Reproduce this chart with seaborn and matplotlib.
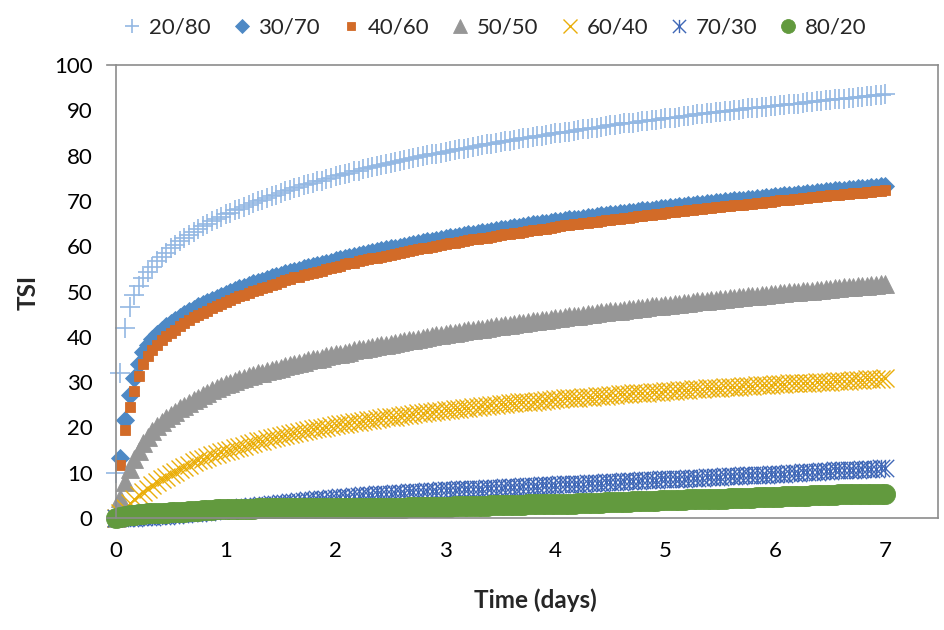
import numpy as np
import pandas as pd
import matplotlib
matplotlib.use("Agg")
import matplotlib.pyplot as plt
from matplotlib.path import Path
import seaborn as sns

# hourly readings over seven days
HOURS = np.arange(169)
TIME_DAYS = HOURS / 24.0

RATIOS = ["20/80", "30/70", "40/60", "50/50", "60/40", "70/30", "80/20"]

TSI_20_80 = [
    10.0, 32.0, 42.0, 46.5, 49.2, 51.3, 53.0, 54.3, 55.5, 56.7, 57.7, 58.6, 59.5,
    60.3, 61.1, 61.8, 62.5, 63.2, 63.8, 64.4, 64.9, 65.5, 66.0, 66.5, 67.0,
    67.4, 67.9, 68.3, 68.7, 69.2, 69.6, 70.0, 70.3, 70.7, 71.1, 71.4, 71.8,
    72.1, 72.4, 72.8, 73.1, 73.4, 73.7, 74.0, 74.3, 74.5, 74.8, 75.1, 75.4,
    75.7, 75.9, 76.2, 76.5, 76.7, 77.0, 77.2, 77.5, 77.7, 77.9, 78.2, 78.4,
    78.6, 78.8, 79.1, 79.3, 79.5, 79.7, 79.9, 80.1, 80.3, 80.4, 80.6, 80.8,
    81.0, 81.2, 81.4, 81.5, 81.7, 81.9, 82.1, 82.3, 82.5, 82.6, 82.8, 83.0,
    83.2, 83.3, 83.5, 83.6, 83.8, 83.9, 84.1, 84.3, 84.4, 84.6, 84.7, 84.9,
    85.0, 85.2, 85.3, 85.5, 85.6, 85.8, 85.9, 86.1, 86.2, 86.4, 86.5, 86.7,
    86.8, 86.9, 87.1, 87.2, 87.3, 87.4, 87.6, 87.7, 87.8, 87.9, 88.1, 88.2,
    88.3, 88.4, 88.6, 88.7, 88.8, 88.9, 89.1, 89.2, 89.3, 89.4, 89.6, 89.7,
    89.8, 89.9, 90.0, 90.1, 90.2, 90.4, 90.5, 90.6, 90.7, 90.8, 90.9, 91.0,
    91.1, 91.2, 91.3, 91.4, 91.5, 91.7, 91.8, 91.9, 92.0, 92.1, 92.2, 92.3,
    92.4, 92.5, 92.6, 92.7, 92.8, 92.9, 93.0, 93.1, 93.2, 93.3, 93.4, 93.5,
]

TSI_30_70 = [
    0.3, 13.2, 21.6, 27.2, 30.8, 34.0, 36.6, 38.2, 39.5, 40.6, 41.5, 42.3, 43.0,
    43.7, 44.4, 45.0, 45.6, 46.2, 46.7, 47.2, 47.7, 48.2, 48.6, 49.1, 49.5,
    49.9, 50.3, 50.7, 51.0, 51.4, 51.8, 52.1, 52.4, 52.8, 53.1, 53.4, 53.7,
    54.0, 54.3, 54.6, 54.8, 55.1, 55.4, 55.6, 55.9, 56.1, 56.4, 56.6, 56.9,
    57.1, 57.4, 57.6, 57.8, 58.1, 58.3, 58.5, 58.7, 58.9, 59.1, 59.3, 59.5,
    59.7, 59.9, 60.1, 60.3, 60.5, 60.7, 60.9, 61.1, 61.2, 61.4, 61.6, 61.8,
    62.0, 62.1, 62.3, 62.4, 62.6, 62.8, 62.9, 63.1, 63.2, 63.4, 63.5, 63.7,
    63.9, 64.0, 64.2, 64.3, 64.5, 64.6, 64.8, 64.9, 65.1, 65.2, 65.4, 65.5,
    65.6, 65.8, 65.9, 66.0, 66.1, 66.3, 66.4, 66.5, 66.6, 66.8, 66.9, 67.0,
    67.1, 67.3, 67.4, 67.5, 67.6, 67.8, 67.9, 68.0, 68.1, 68.3, 68.4, 68.5,
    68.6, 68.7, 68.8, 68.9, 69.0, 69.2, 69.3, 69.4, 69.5, 69.6, 69.7, 69.8,
    69.9, 70.0, 70.1, 70.2, 70.3, 70.4, 70.5, 70.6, 70.7, 70.8, 70.9, 71.0,
    71.1, 71.2, 71.3, 71.4, 71.5, 71.6, 71.7, 71.8, 71.9, 72.0, 72.1, 72.2,
    72.3, 72.4, 72.5, 72.6, 72.7, 72.8, 72.8, 72.9, 73.0, 73.1, 73.2, 73.3,
]

TSI_40_60 = [
    0.2, 11.6, 19.4, 24.5, 28.1, 31.3, 34.0, 35.7, 37.0, 38.2, 39.2, 40.1, 40.9,
    41.6, 42.4, 43.0, 43.7, 44.3, 44.8, 45.3, 45.8, 46.3, 46.7, 47.2, 47.7,
    48.2, 48.6, 49.0, 49.3, 49.7, 50.1, 50.4, 50.7, 51.1, 51.4, 51.7, 52.0,
    52.5, 52.8, 53.1, 53.3, 53.6, 53.9, 54.1, 54.4, 54.6, 54.9, 55.1, 55.4,
    55.7, 56.0, 56.2, 56.4, 56.7, 56.9, 57.1, 57.3, 57.5, 57.7, 57.9, 58.1,
    58.3, 58.5, 58.7, 58.9, 59.1, 59.3, 59.5, 59.7, 59.8, 60.0, 60.2, 60.4,
    60.7, 60.8, 61.0, 61.1, 61.3, 61.5, 61.6, 61.8, 61.9, 62.1, 62.2, 62.4,
    62.6, 62.7, 62.9, 63.0, 63.2, 63.3, 63.5, 63.6, 63.8, 63.9, 64.1, 64.2,
    64.4, 64.6, 64.7, 64.8, 64.9, 65.1, 65.2, 65.3, 65.4, 65.6, 65.7, 65.8,
    65.9, 66.1, 66.2, 66.3, 66.4, 66.6, 66.7, 66.8, 66.9, 67.1, 67.2, 67.3,
    67.5, 67.6, 67.7, 67.8, 67.9, 68.1, 68.2, 68.3, 68.4, 68.5, 68.6, 68.7,
    68.8, 68.9, 69.0, 69.1, 69.2, 69.3, 69.4, 69.5, 69.6, 69.7, 69.8, 69.9,
    70.1, 70.2, 70.3, 70.4, 70.5, 70.6, 70.7, 70.8, 70.9, 71.0, 71.1, 71.2,
    71.3, 71.4, 71.5, 71.6, 71.7, 71.8, 71.8, 71.9, 72.0, 72.1, 72.2, 72.3,
]

TSI_50_50 = [
    0.0, 4.5, 8.0, 10.8, 13.0, 14.9, 16.5, 17.9, 19.1, 20.2, 21.2, 22.0, 22.8,
    23.5, 24.2, 24.8, 25.4, 26.0, 26.6, 27.1, 27.7, 28.2, 28.7, 29.2, 29.6,
    29.9, 30.3, 30.6, 30.9, 31.3, 31.6, 31.9, 32.1, 32.4, 32.7, 32.9, 33.2,
    33.5, 33.7, 34.0, 34.3, 34.5, 34.8, 35.0, 35.2, 35.4, 35.7, 35.9, 36.1,
    36.3, 36.5, 36.7, 37.0, 37.2, 37.4, 37.6, 37.8, 38.0, 38.1, 38.3, 38.5,
    38.7, 38.9, 39.1, 39.2, 39.4, 39.6, 39.8, 39.9, 40.1, 40.3, 40.4, 40.6,
    40.8, 40.9, 41.1, 41.2, 41.4, 41.5, 41.7, 41.8, 42.0, 42.1, 42.3, 42.4,
    42.5, 42.7, 42.8, 43.0, 43.1, 43.3, 43.4, 43.5, 43.7, 43.8, 44.0, 44.1,
    44.2, 44.4, 44.5, 44.6, 44.7, 44.9, 45.0, 45.1, 45.2, 45.4, 45.5, 45.6,
    45.7, 45.8, 46.0, 46.1, 46.2, 46.3, 46.4, 46.5, 46.7, 46.8, 46.9, 47.0,
    47.1, 47.2, 47.3, 47.4, 47.5, 47.7, 47.8, 47.9, 48.0, 48.1, 48.2, 48.3,
    48.4, 48.5, 48.6, 48.7, 48.8, 48.9, 49.0, 49.1, 49.2, 49.3, 49.4, 49.5,
    49.6, 49.7, 49.8, 49.9, 50.0, 50.1, 50.1, 50.2, 50.3, 50.4, 50.5, 50.6,
    50.7, 50.8, 50.9, 51.0, 51.1, 51.2, 51.2, 51.3, 51.4, 51.5, 51.6, 51.7,
]

TSI_60_40 = [
    0.0, 1.2, 2.3, 3.3, 4.2, 5.0, 5.8, 6.5, 7.2, 7.9, 8.5, 9.1, 9.7,
    10.2, 10.8, 11.3, 11.8, 12.3, 12.7, 13.1, 13.5, 13.9, 14.2, 14.5, 14.8,
    15.1, 15.4, 15.7, 16.0, 16.3, 16.6, 16.9, 17.1, 17.4, 17.6, 17.9, 18.1,
    18.3, 18.5, 18.8, 19.0, 19.2, 19.4, 19.6, 19.8, 19.9, 20.1, 20.3, 20.5,
    20.7, 20.8, 21.0, 21.1, 21.3, 21.4, 21.6, 21.7, 21.9, 22.0, 22.2, 22.3,
    22.4, 22.6, 22.7, 22.8, 23.0, 23.1, 23.2, 23.3, 23.5, 23.6, 23.7, 23.8,
    23.9, 24.0, 24.1, 24.2, 24.3, 24.5, 24.6, 24.7, 24.8, 24.9, 25.0, 25.1,
    25.2, 25.3, 25.4, 25.5, 25.6, 25.7, 25.7, 25.8, 25.9, 26.0, 26.1, 26.2,
    26.3, 26.4, 26.4, 26.5, 26.6, 26.7, 26.7, 26.8, 26.9, 26.9, 27.0, 27.1,
    27.2, 27.3, 27.3, 27.4, 27.5, 27.6, 27.6, 27.7, 27.8, 27.8, 27.9, 28.0,
    28.1, 28.1, 28.2, 28.3, 28.3, 28.4, 28.5, 28.5, 28.6, 28.7, 28.7, 28.8,
    28.9, 28.9, 29.0, 29.0, 29.1, 29.2, 29.2, 29.3, 29.3, 29.4, 29.4, 29.5,
    29.6, 29.6, 29.7, 29.7, 29.8, 29.8, 29.9, 29.9, 30.0, 30.0, 30.1, 30.1,
    30.2, 30.2, 30.3, 30.3, 30.4, 30.5, 30.5, 30.6, 30.6, 30.7, 30.7, 30.8,
]

TSI_70_30 = [
    0.0, 0.0, 0.1, 0.1, 0.1, 0.2, 0.2, 0.3, 0.3, 0.4, 0.5, 0.5, 0.6,
    0.7, 0.8, 0.9, 1.0, 1.1, 1.2, 1.3, 1.4, 1.5, 1.7, 1.8, 1.9,
    2.0, 2.1, 2.2, 2.4, 2.5, 2.6, 2.7, 2.8, 2.9, 3.1, 3.2, 3.3,
    3.4, 3.5, 3.6, 3.7, 3.8, 3.9, 4.0, 4.1, 4.2, 4.3, 4.4, 4.5,
    4.6, 4.6, 4.7, 4.8, 4.9, 5.0, 5.0, 5.1, 5.2, 5.2, 5.3, 5.4,
    5.5, 5.5, 5.6, 5.7, 5.7, 5.8, 5.8, 5.9, 5.9, 6.0, 6.1, 6.1,
    6.2, 6.2, 6.3, 6.3, 6.4, 6.4, 6.5, 6.5, 6.6, 6.6, 6.7, 6.7,
    6.8, 6.8, 6.9, 6.9, 7.0, 7.0, 7.1, 7.1, 7.2, 7.2, 7.3, 7.3,
    7.4, 7.4, 7.5, 7.5, 7.6, 7.6, 7.7, 7.7, 7.8, 7.8, 7.9, 7.9,
    8.0, 8.0, 8.1, 8.1, 8.2, 8.2, 8.3, 8.3, 8.4, 8.4, 8.5, 8.5,
    8.6, 8.6, 8.7, 8.7, 8.8, 8.8, 8.9, 8.9, 9.0, 9.0, 9.1, 9.1,
    9.2, 9.2, 9.3, 9.3, 9.4, 9.4, 9.5, 9.5, 9.6, 9.6, 9.7, 9.7,
    9.8, 9.8, 9.9, 10.0, 10.0, 10.1, 10.1, 10.2, 10.2, 10.3, 10.3, 10.4,
    10.5, 10.5, 10.6, 10.6, 10.7, 10.7, 10.8, 10.8, 10.9, 10.9, 11.0, 11.0,
]

TSI_80_20 = [
    0.0, 0.3, 0.5, 0.6, 0.7, 0.8, 0.9, 1.0, 1.0, 1.1, 1.2, 1.2, 1.3,
    1.3, 1.4, 1.4, 1.5, 1.5, 1.6, 1.7, 1.7, 1.8, 1.9, 1.9, 2.0,
    2.0, 2.0, 2.0, 2.0, 2.0, 2.0, 2.1, 2.1, 2.1, 2.1, 2.1, 2.1,
    2.1, 2.1, 2.1, 2.2, 2.2, 2.2, 2.2, 2.2, 2.2, 2.2, 2.2, 2.2,
    2.2, 2.2, 2.2, 2.2, 2.2, 2.3, 2.3, 2.3, 2.3, 2.3, 2.3, 2.3,
    2.3, 2.3, 2.3, 2.4, 2.4, 2.4, 2.4, 2.4, 2.4, 2.5, 2.5, 2.5,
    2.5, 2.6, 2.6, 2.6, 2.6, 2.7, 2.7, 2.7, 2.7, 2.8, 2.8, 2.8,
    2.8, 2.9, 2.9, 2.9, 2.9, 3.0, 3.0, 3.0, 3.0, 3.1, 3.1, 3.1,
    3.1, 3.2, 3.2, 3.2, 3.3, 3.3, 3.3, 3.4, 3.4, 3.4, 3.5, 3.5,
    3.5, 3.6, 3.6, 3.6, 3.7, 3.7, 3.7, 3.8, 3.8, 3.8, 3.9, 3.9,
    3.9, 4.0, 4.0, 4.0, 4.1, 4.1, 4.1, 4.2, 4.2, 4.2, 4.3, 4.3,
    4.3, 4.4, 4.4, 4.4, 4.5, 4.5, 4.5, 4.6, 4.6, 4.6, 4.7, 4.7,
    4.7, 4.8, 4.8, 4.8, 4.9, 4.9, 4.9, 5.0, 5.0, 5.0, 5.1, 5.1,
    5.1, 5.2, 5.2, 5.2, 5.2, 5.3, 5.3, 5.3, 5.3, 5.4, 5.4, 5.4,
]

SERIES = [TSI_20_80, TSI_30_70, TSI_40_60, TSI_50_50, TSI_60_40, TSI_70_30, TSI_80_20]
for values in SERIES:
    assert len(values) == len(HOURS)

df = pd.concat(
    [pd.DataFrame({"Time": TIME_DAYS, "TSI": vals, "Ratio": name})
     for name, vals in zip(RATIOS, SERIES)],
    ignore_index=True,
)

# six-armed star: an "x" with a vertical bar through it
STAR = Path(
    [(-0.5, -0.5), (0.5, 0.5), (-0.5, 0.5), (0.5, -0.5), (0, -0.5), (0, 0.5)],
    [Path.MOVETO, Path.LINETO, Path.MOVETO, Path.LINETO, Path.MOVETO, Path.LINETO],
)

# marker styles: plot size (ms) and legend size (lms), in points
STYLE = {
    "20/80": dict(marker="+", ms=14.0, lms=10.5, mew=1.2, color="#93B8E3", mfc="#93B8E3"),
    "30/70": dict(marker="D", ms=8.8, lms=7.6, mew=0.6, color="#4E89C5", mfc="#4E89C5"),
    "40/60": dict(marker="s", ms=7.6, lms=6.0, mew=0.6, color="#D26B28", mfc="#D26B28"),
    "50/50": dict(marker="^", ms=12.5, lms=9.5, mew=0.6, color="#969696", mfc="#969696"),
    "60/40": dict(marker="x", ms=13.0, lms=9.5, mew=1.0, color="#EAAE0A", mfc="#EAAE0A"),
    "70/30": dict(marker=STAR, ms=12.5, lms=9.5, mew=1.0, color="#4068B7", mfc="none"),
    "80/20": dict(marker="o", ms=14.5, lms=10.0, mew=0.6, color="#629A3E", mfc="#629A3E"),
}

sns.set_style("white")
plt.rcParams["font.family"] = ["Lato", "DejaVu Sans"]

FS = 16
AXIS_GRAY = "#8C8C8C"

fig = plt.figure(figsize=(9.45, 6.3), dpi=100)
ax = fig.add_axes([107 / 945, 112 / 630, 831 / 945, 453 / 630])

for name in RATIOS:
    st = STYLE[name]
    sns.lineplot(
        data=df[df["Ratio"] == name], x="Time", y="TSI", ax=ax,
        estimator=None, errorbar=None, sort=False,
        linestyle="none", marker=st["marker"], markersize=st["ms"],
        markeredgewidth=st["mew"], color=st["color"],
        markerfacecolor=st["mfc"], markeredgecolor=st["color"],
        clip_on=False, label=name,
    )

ax.set_xlim(-0.08, 7.48)
ax.set_ylim(0, 100)
ax.set_xticks(range(0, 8))
ax.set_yticks(range(0, 101, 10))

ax.spines["left"].set_position(("data", 0))
for side in ["left", "right", "top", "bottom"]:
    ax.spines[side].set_color(AXIS_GRAY)
    ax.spines[side].set_linewidth(1.2)
    ax.spines[side].set_visible(True)

ax.tick_params(axis="both", direction="inout", length=11.5, width=1.1,
               color=AXIS_GRAY, labelsize=FS, labelcolor="black", pad=11)

ax.set_xlabel("Time (days)", fontsize=17.5, fontweight="bold", va="center", ha="center")
ax.xaxis.set_label_coords((535 - 107) / 831, (518 - 600) / 453)
ax.set_ylabel("TSI", fontsize=17.5, fontweight="bold", va="center", ha="center")
ax.yaxis.set_label_coords((28 - 107) / 831, (518 - 292) / 453)

handles, labels = ax.get_legend_handles_labels()
if ax.get_legend() is not None:
    ax.get_legend().remove()
leg = fig.legend(
    handles, labels, loc="center", bbox_to_anchor=(495 / 945, 1 - 28 / 630),
    ncol=7, frameon=False, fontsize=FS, numpoints=1, handlelength=0.8,
    handletextpad=0.35, columnspacing=1.0,
)
for handle, name in zip(leg.legend_handles, labels):
    handle.set_markersize(STYLE[name]["lms"])

fig.savefig("out.png", dpi=100, facecolor="white")
